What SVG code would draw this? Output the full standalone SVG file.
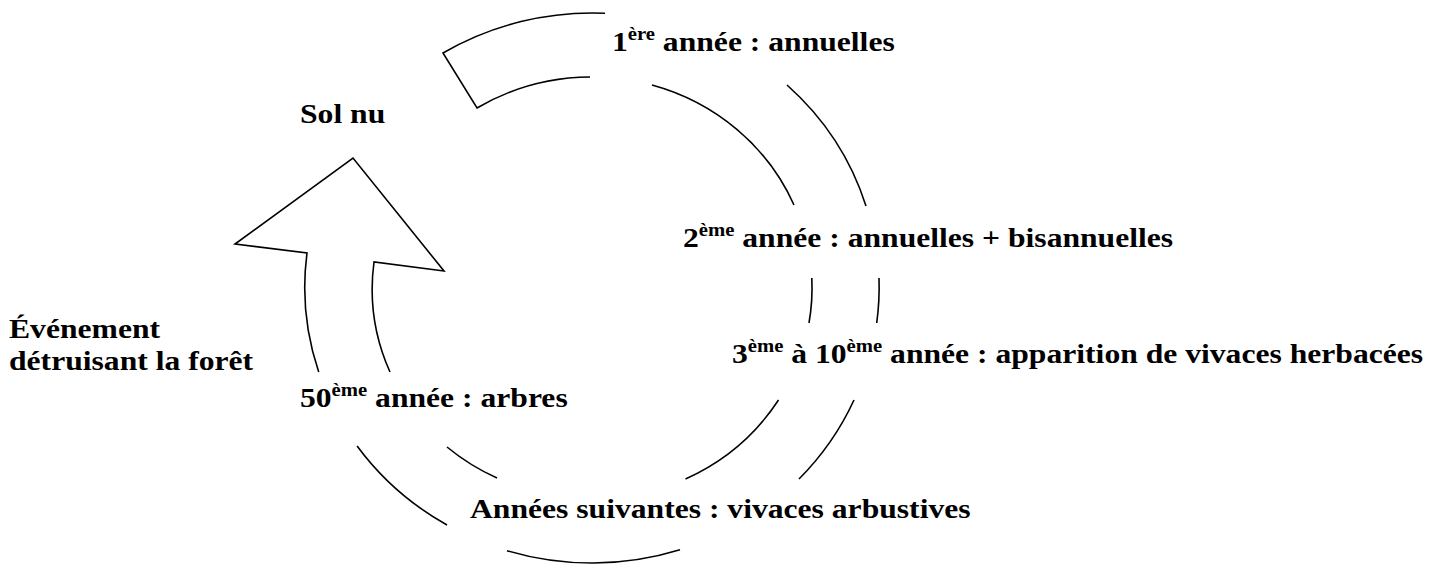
<svg xmlns="http://www.w3.org/2000/svg" width="1441" height="565" viewBox="0 0 1441 565">
<style>
.ring{fill:none;stroke:#000;stroke-width:1.6}
.shape{fill:#fff;stroke:#000;stroke-width:1.6;stroke-linejoin:miter}
.lbl{font-family:"Liberation Serif","Times New Roman",serif;font-weight:bold;font-size:27.5px;fill:#000}
.sup{font-size:18px}
</style>
<rect width="1441" height="565" fill="#fff"/>
<g id="connectors">
<path class="shape" d="M605,13.3 A287,275 0 0,0 443,53 L477,108 A220,211 0 0,1 590,77"/>
<path class="ring" d="M652,85 A220,211 0 0,1 794,205"/>
<path class="ring" d="M787,85 A287,275 0 0,1 866,206"/>
<path class="ring" d="M811.8,278 A220,211 0 0,1 809,323"/>
<path class="ring" d="M879,278 A287,275 0 0,1 876.7,323"/>
<path class="ring" d="M778.5,400 A220,211 0 0,1 685.5,479"/>
<path class="ring" d="M854,400 A287,275 0 0,1 799,479"/>
<path class="ring" d="M680,549.8 A287,275 0 0,1 507,550.7"/>
<path class="ring" d="M447,525 A287,275 0 0,1 357.1,446"/>
<path class="ring" d="M497,478 A220,211 0 0,1 447,447"/>
<path class="shape" d="M318.7,372 A287,275 0 0,1 307,253 L235,244 L353,158 L444,271 L374,262 A220,211 0 0,0 390,372"/>
</g>
<g id="n-sol-nu"><text class="lbl" transform="translate(300,123) scale(1.15,1)">Sol nu</text></g>
<g id="n-annee1"><text class="lbl" transform="translate(612,51) scale(1.15,1)">1<tspan class="sup" dy="-11">ère</tspan><tspan dy="11"> année : annuelles</tspan></text></g>
<g id="n-annee2"><text class="lbl" transform="translate(683,247) scale(1.15,1)">2<tspan class="sup" dy="-11">ème</tspan><tspan dy="11"> année : annuelles + bisannuelles</tspan></text></g>
<g id="n-annee3"><text class="lbl" transform="translate(732,363) scale(1.15,1)">3<tspan class="sup" dy="-11">ème</tspan><tspan dy="11"> à 10</tspan><tspan class="sup" dy="-11">ème</tspan><tspan dy="11"> année : apparition de vivaces herbacées</tspan></text></g>
<g id="n-suivantes"><text class="lbl" transform="translate(470,518) scale(1.15,1)">Années suivantes : vivaces arbustives</text></g>
<g id="n-annee50"><text class="lbl" transform="translate(300,407) scale(1.15,1)">50<tspan class="sup" dy="-11">ème</tspan><tspan dy="11"> année : arbres</tspan></text></g>
<g id="n-evenement"><text class="lbl" transform="translate(9,338) scale(1.15,1)">Événement</text><text class="lbl" transform="translate(9,370) scale(1.15,1)">détruisant la forêt</text></g>
</svg>
